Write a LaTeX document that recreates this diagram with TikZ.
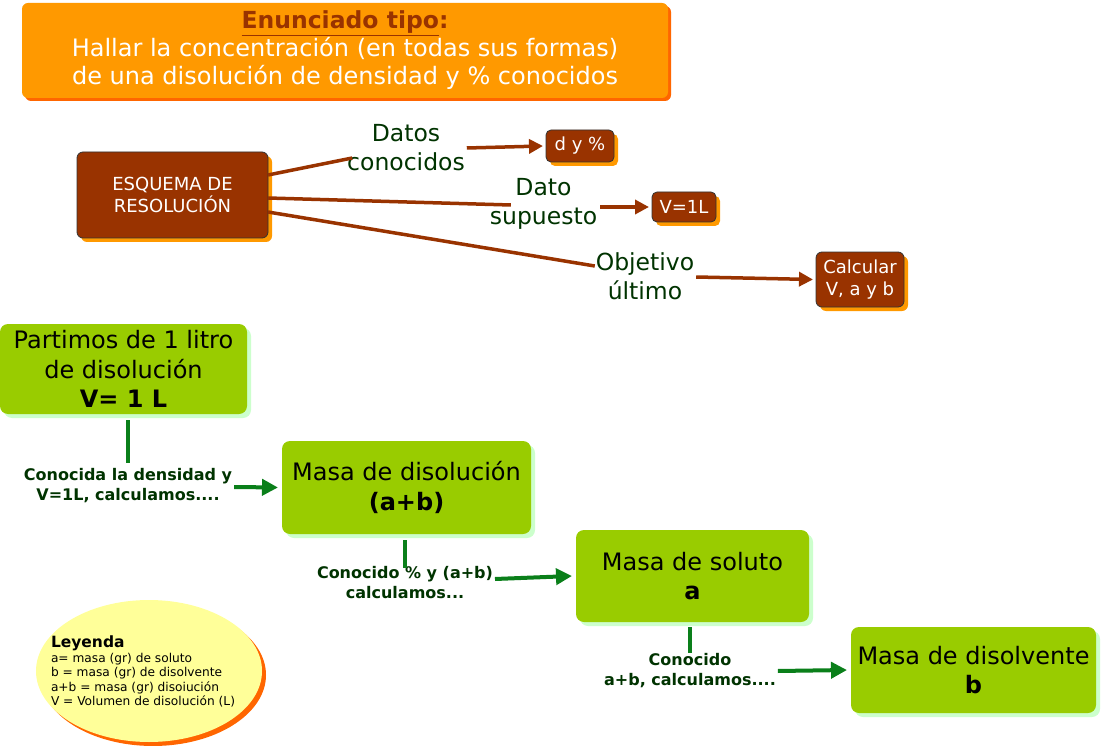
\documentclass[tikz,border=0pt]{standalone}
\usepackage{fontspec}
\setmainfont{DejaVu Sans}
\usetikzlibrary{shadows,arrows.meta,shapes.geometric}
\definecolor{orangeA}{HTML}{FF9900}
\definecolor{orangeS}{HTML}{FF6600}
\definecolor{brownA}{HTML}{993300}
\definecolor{greenA}{HTML}{99CC00}
\definecolor{greenS}{HTML}{CCFFCC}
\definecolor{lineG}{HTML}{0A7F1A}
\definecolor{textG}{HTML}{003300}
\definecolor{yellowA}{HTML}{FFFF99}
\tikzset{
  every node/.style={inner sep=0pt, outer sep=0pt},
  topbox/.style={fill=orangeA, rounded corners=6pt, drop shadow={shadow xshift=3pt, shadow yshift=-3pt, fill=orangeS, opacity=1}},
  brownbox/.style={fill=brownA, draw=black!80, line width=0.8pt, rounded corners=6pt, text=white, align=center,
    drop shadow={shadow xshift=4pt, shadow yshift=-4pt, fill=orangeA, opacity=1}},
  greenbox/.style={fill=greenA, rounded corners=8pt, align=center, text=black,
    font=\fontsize{24}{29.5}\selectfont,
    drop shadow={shadow xshift=4pt, shadow yshift=-4pt, fill=greenS, opacity=1}},
  toplabel/.style={text=textG, align=center, font=\fontsize{23.5}{29}\selectfont},
  glabel/.style={text=textG, align=center, font=\bfseries\fontsize{16}{20}\selectfont},
  bline/.style={draw=brownA, line width=3.5pt},
  barrow/.style={draw=brownA, line width=3.5pt, -{Triangle[length=14pt,width=14pt]}},
  gline/.style={draw=lineG, line width=4pt},
  garrow/.style={draw=lineG, line width=4pt, -{Triangle[length=16pt,width=16pt]}},
}
\begin{document}
\begin{tikzpicture}[x=1pt,y=-1pt]
\useasboundingbox[fill=white] (0,0) rectangle (1103,746);

% top statement
\node[topbox, minimum width=646pt, minimum height=95pt] (enun) at (345,50.5) {};
\node[align=center, font=\fontsize{24}{28}\selectfont, text=white] (enuntext) at (345,50.5)
 {{\bfseries\fontsize{23.5}{28}\selectfont\textcolor{brownA}{\underline{Enunciado tipo}:}}\\
  Hallar la concentración (en todas sus formas)\\
  de una disolución de densidad y \% conocidos};

% scheme
\node[brownbox, minimum width=191pt, minimum height=86pt, font=\fontsize{18}{22}\selectfont] (esq) at (172.5,195) {ESQUEMA DE\\RESOLUCIÓN};
\node[brownbox, minimum width=68pt, minimum height=32pt, rounded corners=5pt, font=\fontsize{18}{20}\selectfont] (dyp) at (580,146) {d y \%};
\node[brownbox, minimum width=64pt, minimum height=30pt, rounded corners=5pt, font=\fontsize{18}{20}\selectfont] (vol) at (684,207) {V=1L};
\node[brownbox, minimum width=88pt, minimum height=55pt, rounded corners=6pt, font=\fontsize{18}{22}\selectfont] (calc) at (860,279.5) {Calcular\\V, a y b};

\node[toplabel] (datos) at (406,148) {Datos\\conocidos};
\node[toplabel] (supu) at (543.5,203.5) {Dato\\supuesto};
\node[toplabel] (obj) at (645,276) {Objetivo\\último};

\draw[bline] ([yshift=20pt]esq.east) -- ([xshift=5pt,yshift=-10pt]datos.west);
\draw[barrow] ([yshift=-0pt,xshift=2pt]datos.east) -- ([xshift=-3pt]dyp.west);
\draw[bline] ([yshift=-3pt]esq.east) -- ([xshift=21pt,yshift=-1.5pt]supu.west);
\draw[barrow] ([yshift=-3.5pt,xshift=3pt]supu.east) -- ([xshift=-3pt]vol.west);
\draw[bline] ([yshift=-17pt]esq.east) -- ([xshift=-1pt,yshift=10pt]obj.west);
\draw[barrow] ([xshift=2pt,yshift=-1pt]obj.east) -- ([xshift=-3pt]calc.west);

% green chain
\node[greenbox, minimum width=247pt, minimum height=90pt] (b1) at (123.5,369) {Partimos de 1 litro\\de disolución\\\textbf{V= 1 L}};
\node[greenbox, minimum width=249pt, minimum height=93pt] (b2) at (406.5,487.5) {Masa de disolución\\\textbf{(a+b)}};
\node[greenbox, minimum width=233pt, minimum height=92pt] (b3) at (692.5,576) {Masa de soluto\\\textbf{a}};
\node[greenbox, minimum width=245pt, minimum height=86pt] (b4) at (973.5,670) {Masa de disolvente\\\textbf{b}};

\node[glabel] (l1) at (128,486) {Conocida la densidad y\\V=1L, calculamos....};
\node[glabel] (l2) at (405,583) {Conocido \% y (a+b)\\calculamos...};
\node[glabel] (l3) at (690,671) {Conocido\\a+b, calculamos....};

\draw[gline] ([yshift=-6pt]b1.south -| l1.north) -- ([yshift=6pt]l1.north);
\draw[garrow] ([xshift=2pt,yshift=-1pt]l1.east) -- ([xshift=-4pt]b2.west);
\draw[gline] ([yshift=-6pt]b2.south -| l2.north) -- ([yshift=-1pt]l2.north);
\draw[garrow] ([xshift=2pt,yshift=4pt]l2.east) -- ([xshift=-4pt]b3.west);
\draw[gline] ([yshift=-5pt]b3.south -| l3.north) -- ([yshift=1pt]l3.north);
\draw[garrow] ([xshift=2pt]l3.east) -- ([xshift=-4pt]b4.west);

% legend
\node[ellipse, fill=yellowA, minimum width=226pt, minimum height=142pt,
  drop shadow={shadow xshift=4pt, shadow yshift=-4pt, fill=orangeS, opacity=1}] (leg) at (149,671) {};
\node[anchor=north west, align=left, font=\fontsize{12.2}{14.5}\selectfont] (legtext) at (51,636)
 {{\bfseries\fontsize{15.5}{17.5}\selectfont Leyenda}\\
  a= masa (gr) de soluto\\
  b = masa (gr) de disolvente\\
  a+b = masa (gr) disoiución\\
  V = Volumen de disolución (L)};
\end{tikzpicture}
\end{document}
